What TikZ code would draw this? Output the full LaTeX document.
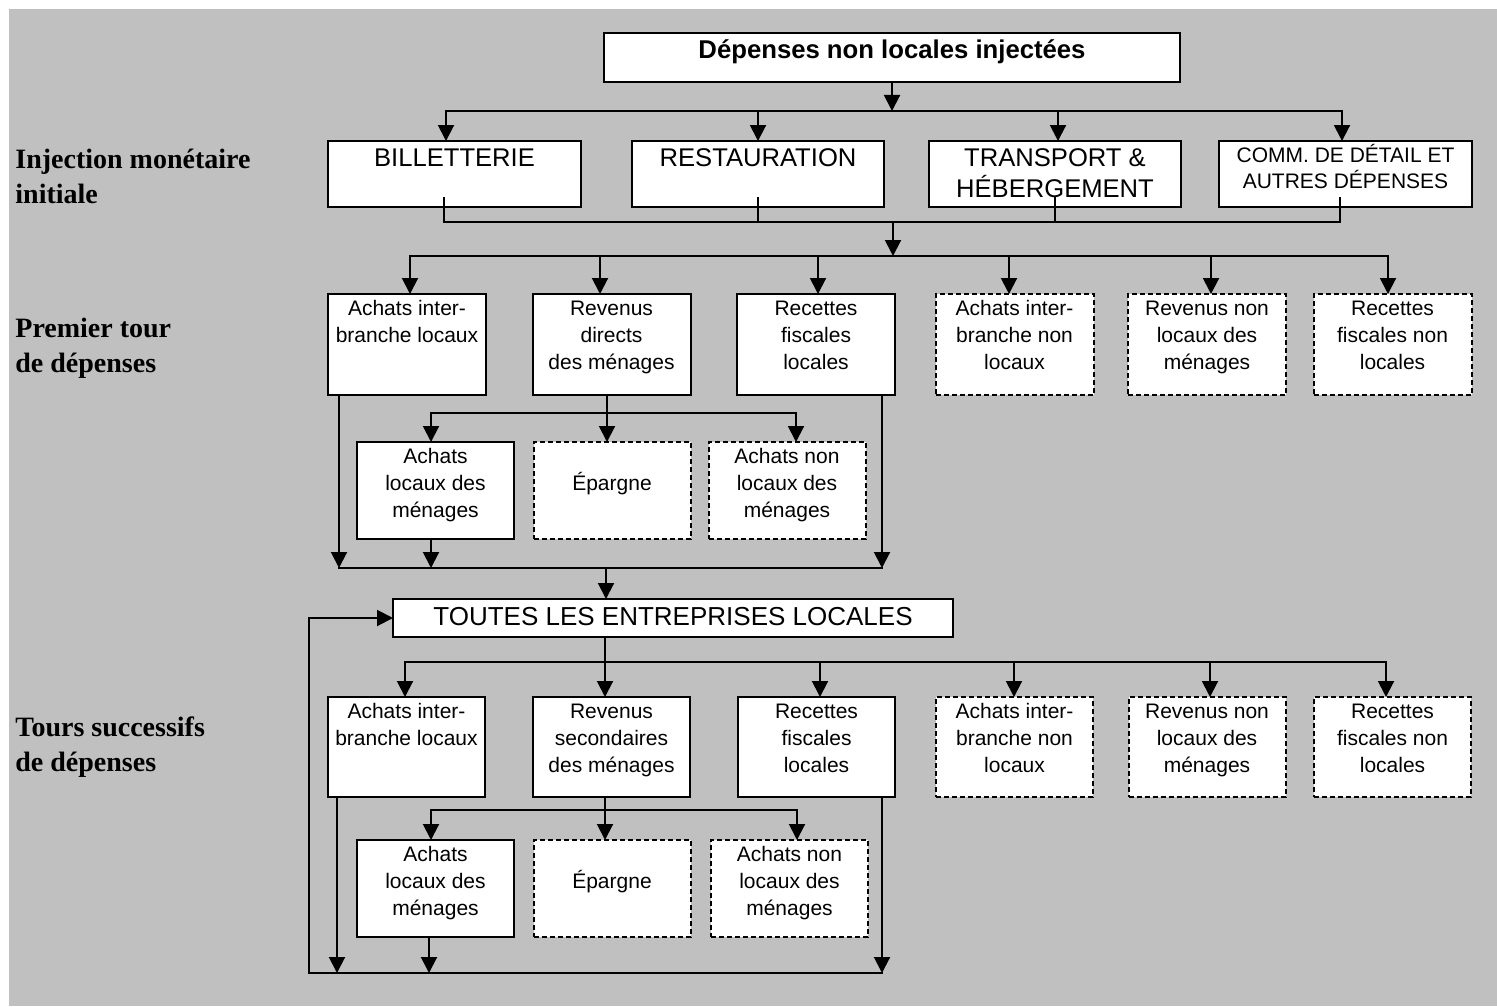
\documentclass[tikz,border=0pt]{standalone}
\usepackage{fontspec}
\setmainfont{Liberation Sans}
\newfontfamily\tnr{Liberation Serif}
\usetikzlibrary{arrows.meta,calc}
\definecolor{bg}{HTML}{C0C0C0}
\newcommand{\fr}{\rule{0pt}{1em}}
\begin{document}
\begin{tikzpicture}[x=0.5pt,y=-0.5pt,
  box/.style={draw, fill=white, line width=1pt, inner sep=0pt, outer sep=0pt},
  dbox/.style={box, dash pattern=on 2.5pt off 1.5pt},
  ln/.style={line width=1pt, line cap=rect},
  arr/.style={line width=1pt, line cap=rect, -{Triangle[length=8pt,width=8pt]}},
  txt/.style={inner sep=0pt, outer sep=0pt, align=center, anchor=north},
  fA/.style={font=\fontsize{12.8pt}{15.5pt}\selectfont},
  fB/.style={font=\fontsize{10.5pt}{13.5pt}\selectfont},
  fC/.style={font=\fontsize{10.5pt}{13pt}\selectfont},
  lab/.style={inner sep=0pt, anchor=north west, align=left, font=\tnr\bfseries\fontsize{14pt}{17.5pt}\selectfont},
  r1/.style={minimum width=126.5pt, minimum height=33pt},
  r2/.style={minimum width=79pt, minimum height=50.5pt},
  s2/.style={minimum width=78.5pt, minimum height=48.5pt},
  r3/.style={minimum width=78.5pt, minimum height=50pt},
]
% background
\useasboundingbox (0,0) rectangle (1497,1006);
\fill[white] (0,0) rectangle (1497,1006);
\fill[bg] (9,9) rectangle (1497,1006);

% left labels
\node[lab] (l1) at (15,140) {\fr Injection monétaire\\initiale};
\node[lab] (l2) at (15,309) {\fr Premier tour\\de dépenses};
\node[lab] (l3) at (15,708) {\fr Tours successifs\\de dépenses};

% top box
\node[box, minimum width=288pt, minimum height=24.5pt] (top) at (892,57.5) {};
\node[txt, font=\bfseries\fontsize{12.85pt}{15pt}\selectfont] (topt) at (top.north) {\fr Dépenses non locales injectées};

% row 1
\node[box,r1] (r1a) at (454.5,174) {};
\node[box,r1,minimum width=126pt] (r1b) at (758,174) {};
\node[box,r1,minimum width=126pt] (r1c) at (1055,174) {};
\node[box,r1] (r1d) at (1345.5,174) {};
\node[txt,fA] (r1at) at (r1a.north) {\fr BILLETTERIE};
\node[txt,fA] (r1bt) at (r1b.north) {\fr RESTAURATION};
\node[txt,fA] (r1ct) at (r1c.north) {\fr TRANSPORT \&\\HÉBERGEMENT};
\node[txt,fC] (r1dt) at (r1d.north) {\fr COMM. DE DÉTAIL ET\\AUTRES DÉPENSES};

% row 2
\node[box,r2] (a2a) at (407,344.5) {};
\node[box,r2] (a2b) at (611.5,344.5) {};
\node[box,r2] (a2c) at (816,344.5) {};
\node[dbox,r2] (a2d) at (1014.5,344.5) {};
\node[dbox,r2] (a2e) at (1207,344.5) {};
\node[dbox,r2] (a2f) at (1392.5,344.5) {};
\node[txt,fB] (a2at) at (a2a.north) {\fr Achats inter-\\branche locaux};
\node[txt,fB] (a2bt) at (a2b.north) {\fr Revenus\\directs\\des ménages};
\node[txt,fB] (a2ct) at (a2c.north) {\fr Recettes\\fiscales\\locales};
\node[txt,fB] (a2dt) at (a2d.north) {\fr Achats inter-\\branche non\\locaux};
\node[txt,fB] (a2et) at (a2e.north) {\fr Revenus non\\locaux des\\ménages};
\node[txt,fB] (a2ft) at (a2f.north) {\fr Recettes\\fiscales non\\locales};

% sub row 2
\node[box,s2] (s2a) at (435.5,490.5) {};
\node[dbox,s2] (s2b) at (612,490.5) {};
\node[dbox,s2] (s2c) at (787,490.5) {};
\node[txt,fB] (s2at) at (s2a.north) {\fr Achats\\locaux des\\ménages};
\node[txt,fB] (s2bt) at ([yshift=-13.5pt]s2b.north) {\fr Épargne};
\node[txt,fB] (s2ct) at (s2c.north) {\fr Achats non\\locaux des\\ménages};

% toutes
\node[box, minimum width=280pt, minimum height=19pt] (toutes) at (673,618) {};
\node[txt, font=\fontsize{13pt}{15.6pt}\selectfont] (toutest) at (toutes.north) {\fr TOUTES LES ENTREPRISES LOCALES};

% row 3
\node[box,r3] (a3a) at (406.5,747) {};
\node[box,r3] (a3b) at (611.5,747) {};
\node[box,r3] (a3c) at (816.5,747) {};
\node[dbox,r3] (a3d) at (1014.5,747) {};
\node[dbox,r3] (a3e) at (1207,747) {};
\node[dbox,r3] (a3f) at (1392.5,747) {};
\node[txt,fB] (a3at) at (a3a.north) {\fr Achats inter-\\branche locaux};
\node[txt,fB] (a3bt) at (a3b.north) {\fr Revenus\\secondaires\\des ménages};
\node[txt,fB] (a3ct) at (a3c.north) {\fr Recettes\\fiscales\\locales};
\node[txt,fB] (a3dt) at (a3d.north) {\fr Achats inter-\\branche non\\locaux};
\node[txt,fB] (a3et) at (a3e.north) {\fr Revenus non\\locaux des\\ménages};
\node[txt,fB] (a3ft) at (a3f.north) {\fr Recettes\\fiscales non\\locales};

% sub row 3
\node[box,s2] (s3a) at (435.5,888.5) {};
\node[dbox,s2] (s3b) at (612,888.5) {};
\node[dbox,s2] (s3c) at (789.5,888.5) {};
\node[txt,fB] (s3at) at (s3a.north) {\fr Achats\\locaux des\\ménages};
\node[txt,fB] (s3bt) at ([yshift=-13.5pt]s3b.north) {\fr Épargne};
\node[txt,fB] (s3ct) at (s3c.north) {\fr Achats non\\locaux des\\ménages};

% ---- connectors ----
\coordinate (bus1) at (892,111);
\coordinate (j1a) at (446,111);
\coordinate (j1b) at (758,111);
\coordinate (j1c) at (1058,111);
\coordinate (j1d) at (1342,111);
\draw[arr] (top.south) -- (bus1);
\draw[ln] (j1a) -- (j1d);
\foreach \j/\b in {j1a/r1a, j1b/r1b, j1c/r1c, j1d/r1d}
  \draw[arr] (\j) -- (\j |- \b.north);

\coordinate (k1a) at (444,222);
\coordinate (k1b) at (758,222);
\coordinate (k1c) at (1055,222);
\coordinate (k1d) at (1340,222);
\foreach \k/\b in {k1a/r1a, k1b/r1b, k1c/r1c, k1d/r1d}
  \draw[ln] ($(\k |- \b.south)+(0,-9)$) -- (\k);
\draw[ln] (k1a) -- (k1d);

\coordinate (m1) at (893,222);
\coordinate (bus2) at (893,256);
\draw[arr] (m1) -- (bus2);
\coordinate (j2a) at (410,256);
\coordinate (j2b) at (600,256);
\coordinate (j2c) at (818,256);
\coordinate (j2d) at (1009,256);
\coordinate (j2e) at (1211,256);
\coordinate (j2f) at (1388,256);
\draw[ln] (j2a) -- (j2f);
\foreach \j/\b in {j2a/a2a, j2b/a2b, j2c/a2c, j2d/a2d, j2e/a2e, j2f/a2f}
  \draw[arr] (\j) -- (\j |- \b.north);

\coordinate (q2a) at (339,568);
\coordinate (q2c) at (882,568);
\coordinate (q2m) at (606,568);
\draw[arr] (q2a |- a2a.south) -- (q2a);
\draw[arr] (q2c |- a2c.south) -- (q2c);
\draw[ln] (q2a) -- (q2c);
\coordinate (u2a) at (431,413);
\coordinate (u2b) at (607,413);
\coordinate (u2c) at (796,413);
\draw[arr] (u2b |- a2b.south) -- (u2b |- s2b.north);
\draw[ln] (u2a) -- (u2c);
\draw[arr] (u2a) -- (u2a |- s2a.north);
\draw[arr] (u2c) -- (u2c |- s2c.north);
\draw[arr] (u2a |- s2a.south) -- (u2a |- q2a);
\draw[arr] (q2m) -- (q2m |- toutes.north);

\coordinate (fb) at (309,973);
\coordinate (q3a) at (337,973);
\coordinate (q3s) at (429,973);
\coordinate (q3c) at (882,973);
\draw[arr] (fb) |- (toutes.west);
\draw[ln] (fb) -- (q3c);
\draw[arr] (q3a |- a3a.south) -- (q3a);
\draw[arr] (q3c |- a3c.south) -- (q3c);
\draw[arr] (q3s |- s3a.south) -- (q3s);

\coordinate (j3a) at (405,662);
\coordinate (j3b) at (605,662);
\coordinate (j3c) at (820,662);
\coordinate (j3d) at (1014,662);
\coordinate (j3e) at (1210,662);
\coordinate (j3f) at (1386,662);
\draw[arr] (j3b |- toutes.south) -- (j3b |- a3b.north);
\draw[ln] (j3a) -- (j3f);
\foreach \j/\b in {j3a/a3a, j3c/a3c, j3d/a3d, j3e/a3e, j3f/a3f}
  \draw[arr] (\j) -- (\j |- \b.north);

\coordinate (u3a) at (431,810);
\coordinate (u3b) at (605,810);
\coordinate (u3c) at (797,810);
\draw[arr] (u3b |- a3b.south) -- (u3b |- s3b.north);
\draw[ln] (u3a) -- (u3c);
\draw[arr] (u3a) -- (u3a |- s3a.north);
\draw[arr] (u3c) -- (u3c |- s3c.north);
\end{tikzpicture}
\end{document}
